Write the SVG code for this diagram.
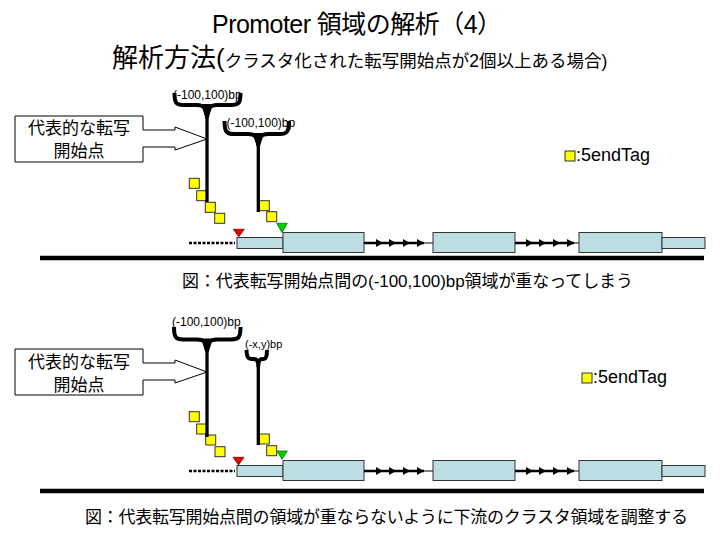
<svg xmlns="http://www.w3.org/2000/svg" width="720" height="540" viewBox="0 0 720 540">
<style>
text{font-family:"Liberation Sans","Noto Sans CJK JP",sans-serif;fill:#000}
.sq{fill:#ffff00;stroke:#333;stroke-width:1}
.box{fill:#bcdde2;stroke:#333;stroke-width:1}
.brace{fill:none;stroke:#000;stroke-width:4;stroke-linejoin:round}
.stem{stroke:#000;stroke-width:3.3}
.dots{stroke:#000;stroke-width:2.5;stroke-dasharray:3 1.5}
.thick{stroke:#000;stroke-width:2.5}
.thin{stroke:#000;stroke-width:1}
.ah{fill:#000}
.red{fill:#e00000;stroke:#8a0000;stroke-width:0.8}
.green{fill:#00cc00;stroke:#007a00;stroke-width:0.8}
.call{fill:#fff;stroke:#000;stroke-width:1}
.base{stroke:#000;stroke-width:4.5}
.bp{font-size:12px}
.ct{font-size:17px;text-anchor:middle}
.lg{font-size:18px}
</style>
<defs>
<g id="cluster">
<line class="dots" x1="189" y1="0" x2="235" y2="0"/>
<rect class="box" x="237" y="-5.5" width="46" height="11"/>
<rect class="box" x="283" y="-10.5" width="81" height="20"/>
<line class="thick" x1="364" y1="0" x2="424" y2="0"/>
<line class="thin" x1="424" y1="0" x2="433" y2="0"/>
<path class="ah" d="M376,-4L383,0L376,4ZM389,-4L396,0L389,4ZM403,-4L410,0L403,4ZM417,-4L424,0L417,4Z"/>
<rect class="box" x="433" y="-10.5" width="82" height="20"/>
<line class="thick" x1="515" y1="0" x2="574" y2="0"/>
<line class="thin" x1="574" y1="0" x2="579" y2="0"/>
<path class="ah" d="M526,-4L533,0L526,4ZM539,-4L546,0L539,4ZM553,-4L560,0L553,4ZM567,-4L574,0L567,4Z"/>
<rect class="box" x="579" y="-10.5" width="83" height="20"/>
<rect class="box" x="662" y="-5.5" width="43" height="11"/>
</g>
</defs>

<g id="title">
<text x="212" y="33" font-size="25" textLength="290">Promoter 領域の解析（4）</text>
<text x="112" y="67"><tspan font-size="26">解析方法(</tspan><tspan font-size="17.5">クラスタ化された転写開始点が2個以上ある場合)</tspan></text>
</g>

<!-- top panel -->
<g id="top-callout">
<path class="call" d="M15,116H143V130H175V127L207,139L175,150V147H143V162H15Z"/>
<text class="ct" x="79" y="134">代表的な転写</text>
<text class="ct" x="79" y="157">開始点</text>
</g>
<g id="top-brace1">
<path class="brace" d="M174.5,93C174.5,103 176,105 184,105H197C204,105 207,108 207,117C207,108 210,105 217,105H231C239,105 240.5,103 240.5,93"/>
<path class="ah" d="M201,104H213L208.6,118H205.4Z"/>
<text class="bp" x="173" y="99">(-100,100)bp</text>
</g>
<g id="top-brace2">
<path class="brace" d="M224.5,121C224.5,131 226,134 234,134H248C255,134 258.3,137 258.3,145C258.3,137 261.6,134 268,134H280C287.5,134 289,131 289,121"/>
<path class="ah" d="M252.3,133H264.3L259.9,146H256.7Z"/>
<text class="bp" x="226.5" y="127">(-100,100)bp</text>
</g>
<g id="top-tags">
<rect class="sq" x="189.3" y="178.3" width="10" height="10"/>
<rect class="sq" x="196.7" y="190.7" width="10" height="10"/>
<rect class="sq" x="205.3" y="202.3" width="10" height="10"/>
<rect class="sq" x="214.7" y="213.3" width="10" height="10"/>
<rect class="sq" x="259.3" y="200.7" width="10" height="10"/>
<rect class="sq" x="266.7" y="211.7" width="10" height="10"/>
</g>
<g id="top-markers">
<path class="red" d="M233.3,229.3H244.3L238.8,236.7Z"/>
<path class="green" d="M276.7,223.3H287.3L282,232.7Z"/>
</g>
<g id="top-gene">
<use href="#cluster" y="243"/>
</g>
<g id="top-legend">
<rect class="sq" x="565" y="151" width="10" height="10"/>
<text class="lg" x="576" y="161">:5endTag</text>
</g>

<!-- bottom panel -->
<g id="bottom-callout">
<path class="call" d="M15,349H143V363H175V360L207,372L175,383V380H143V395H15Z"/>
<text class="ct" x="79" y="368">代表的な転写</text>
<text class="ct" x="79" y="391">開始点</text>
</g>
<g id="bottom-brace1">
<path class="brace" d="M174,327C174,337 175.5,339.5 183.5,339.5H197C204,339.5 207,342 207,351C207,342 210,339.5 217,339.5H231C239,339.5 240.5,337 240.5,327"/>
<path class="ah" d="M201,338.5H213L208.6,352H205.4Z"/>
<text class="bp" x="172" y="326">(-100,100)bp</text>
</g>
<g id="bottom-brace2">
<path class="brace" d="M246.5,350C246.5,356 247.5,359 251,359H254C256.5,359 258.3,361 258.3,366C258.3,361 260,359 262.5,359H264C266,359 267,356 267,350"/>
<text x="245" y="348" font-size="11">(-x,y)bp</text>
</g>
<g id="bottom-tags">
<rect class="sq" x="189.3" y="411.7" width="10" height="10"/>
<rect class="sq" x="196.7" y="424" width="10" height="10"/>
<rect class="sq" x="205.7" y="435" width="10" height="10"/>
<rect class="sq" x="215" y="446.7" width="10" height="10"/>
<rect class="sq" x="259.3" y="434" width="10" height="10"/>
<rect class="sq" x="266.7" y="445.7" width="10" height="10"/>
</g>
<g id="bottom-markers">
<path class="red" d="M233,457.3H244L238.5,465Z"/>
<path class="green" d="M276.7,451H287.3L282,459.3Z"/>
</g>
<g id="bottom-gene">
<use href="#cluster" y="471"/>
</g>
<g id="bottom-legend">
<rect class="sq" x="582" y="373" width="10" height="10"/>
<text class="lg" x="593" y="383">:5endTag</text>
</g>

<g id="connectors">
<line class="stem" x1="207" y1="116" x2="207" y2="202"/>
<line class="stem" x1="258.3" y1="144" x2="258.3" y2="212"/>
<line class="stem" x1="207" y1="350" x2="207" y2="437"/>
<line class="stem" x1="258.3" y1="365" x2="258.3" y2="445"/>
<line class="base" x1="40" y1="258" x2="704" y2="258"/>
<line class="base" x1="40" y1="491" x2="704" y2="491"/>
</g>

<g id="captions">
<text x="182" y="287" font-size="17" textLength="451">図：代表転写開始点間の(-100,100)bp領域が重なってしまう</text>
<text x="85" y="523" font-size="17" textLength="603">図：代表転写開始点間の領域が重ならないように下流のクラスタ領域を調整する</text>
</g>
</svg>
